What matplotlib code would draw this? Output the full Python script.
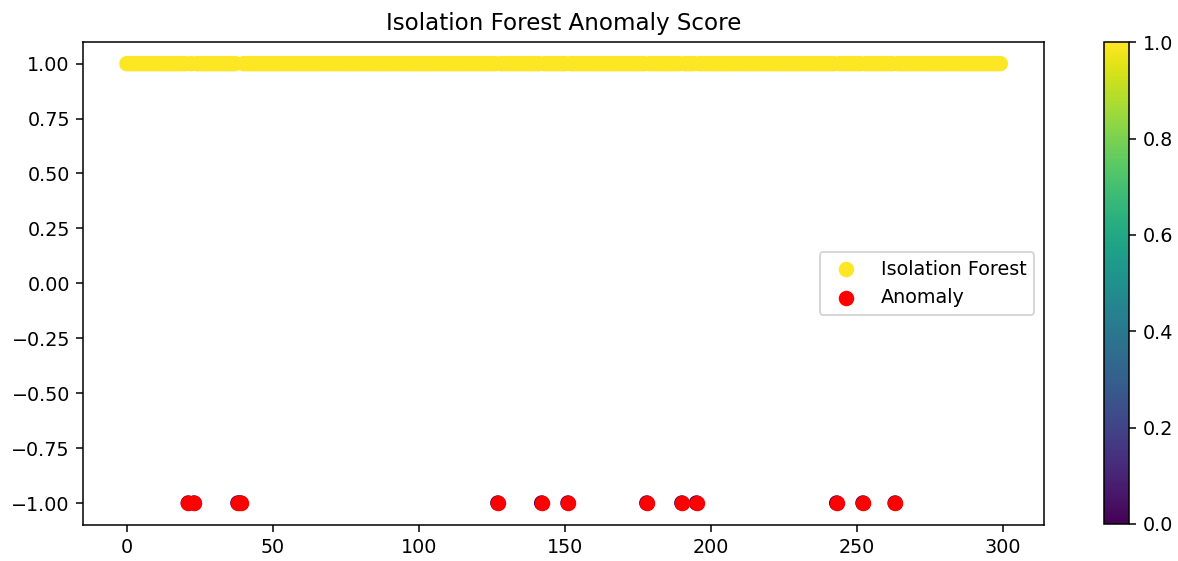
import numpy as np
import matplotlib
matplotlib.use("Agg")
import matplotlib.pyplot as plt

# Data
n_points = 300
anomaly_idx = [21, 23, 38, 39, 127, 142, 151, 178, 190, 195, 243, 252, 263]
index = np.arange(n_points)
scores = np.ones(n_points)
scores[anomaly_idx] = -1
anom_x = index[scores == -1]
anom_y = scores[scores == -1]

DPI = 138
fig = plt.figure(figsize=(1178 / DPI, 561 / DPI), dpi=DPI)
ax = fig.add_axes([0.0707, 0.0642, 0.8155, 0.8615])
cax = fig.add_axes([0.9372, 0.066, 0.0212, 0.8586])

sc = ax.scatter(index, scores, c=scores, cmap='viridis', vmin=0, vmax=1,
                s=50, label='Isolation Forest')
ax.scatter(anom_x, anom_y, color='red', s=50, label='Anomaly')
ax.set_title('Isolation Forest Anomaly Score')
ax.set_yticks([1.0, 0.75, 0.5, 0.25, 0.0, -0.25, -0.5, -0.75, -1.0])
ax.legend(loc='center right')
fig.colorbar(sc, cax=cax)

fig.savefig('out.png', dpi=DPI)
